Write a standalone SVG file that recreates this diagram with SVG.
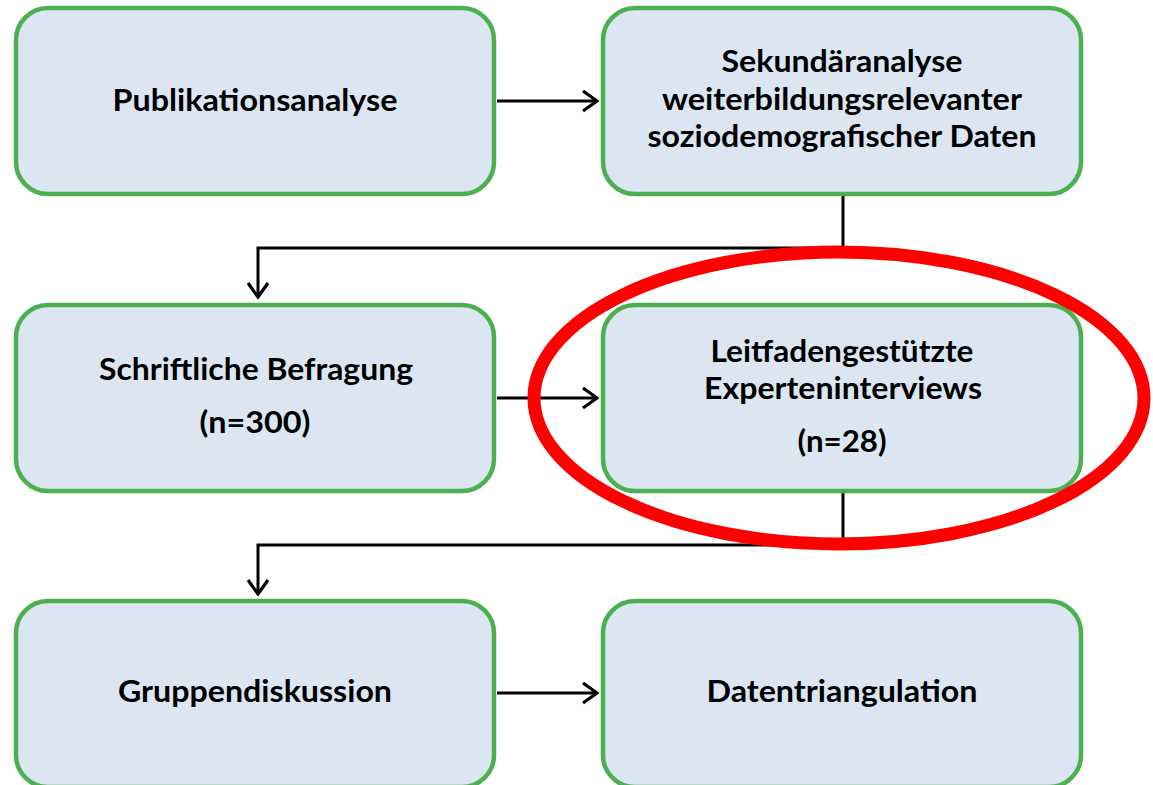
<svg xmlns="http://www.w3.org/2000/svg" width="1153" height="785" viewBox="0 0 1153 785">
<defs>
<style>
.box{fill:#DCE6F2;stroke:#4CAF50;stroke-width:4.5}
.t{font-family:Lato,"Open Sans","Liberation Sans",sans-serif;font-weight:bold;font-size:31px;fill:#000;text-anchor:middle}
.c{fill:none;stroke:#000;stroke-width:3}
</style>
<marker id="ah" viewBox="0 0 20 24" refX="18" refY="12" markerWidth="20" markerHeight="24" markerUnits="userSpaceOnUse" orient="auto">
<path d="M4,2 L18,12 L4,22" fill="none" stroke="#000" stroke-width="3.2"/>
</marker>
</defs>
<rect width="1153" height="785" fill="#fff"/>
<g id="connectors">
<line class="c" x1="497" y1="101" x2="597" y2="101" marker-end="url(#ah)"/>
<polyline class="c" points="843,196 843,248 258,248 258,297" marker-end="url(#ah)"/>
<line class="c" x1="497" y1="398" x2="597" y2="398" marker-end="url(#ah)"/>
<polyline class="c" points="843,492 843,545 258,545 258,594" marker-end="url(#ah)"/>
<line class="c" x1="497" y1="693" x2="597" y2="693" marker-end="url(#ah)"/>
</g>
<g id="n1"><rect class="box" x="16" y="8" width="478" height="186" rx="32"/>
<text class="t" x="255" y="111" textLength="285" lengthAdjust="spacingAndGlyphs">Publikationsanalyse</text></g>
<g id="n2"><rect class="box" x="603" y="8" width="478" height="186" rx="32"/>
<text class="t" x="842" y="72" textLength="241" lengthAdjust="spacingAndGlyphs">Sekundäranalyse</text>
<text class="t" x="842" y="110" textLength="360" lengthAdjust="spacingAndGlyphs">weiterbildungsrelevanter</text>
<text class="t" x="842" y="147" textLength="389" lengthAdjust="spacingAndGlyphs">soziodemografischer Daten</text></g>
<g id="n3"><rect class="box" x="16" y="305" width="478" height="186" rx="32"/>
<text class="t" x="256" y="380" textLength="314" lengthAdjust="spacingAndGlyphs">Schriftliche Befragung</text>
<text class="t" x="255" y="433" textLength="111" lengthAdjust="spacingAndGlyphs">(n=300)</text></g>
<g id="n4"><rect class="box" x="603" y="305" width="478" height="186" rx="32"/>
<text class="t" x="842" y="362" textLength="263" lengthAdjust="spacingAndGlyphs">Leitfadengestützte</text>
<text class="t" x="843" y="399" textLength="278" lengthAdjust="spacingAndGlyphs">Experteninterviews</text>
<text class="t" x="842" y="452" textLength="89" lengthAdjust="spacingAndGlyphs">(n=28)</text></g>
<g id="n5"><rect class="box" x="16" y="601" width="478" height="186" rx="32"/>
<text class="t" x="255" y="702" textLength="274" lengthAdjust="spacingAndGlyphs">Gruppendiskussion</text></g>
<g id="n6"><rect class="box" x="603" y="601" width="478" height="186" rx="32"/>
<text class="t" x="842" y="702" textLength="271" lengthAdjust="spacingAndGlyphs">Datentriangulation</text></g>
<ellipse id="highlight" cx="839" cy="398" rx="305" ry="146" fill="none" stroke="#FF0000" stroke-width="13"/>
</svg>
